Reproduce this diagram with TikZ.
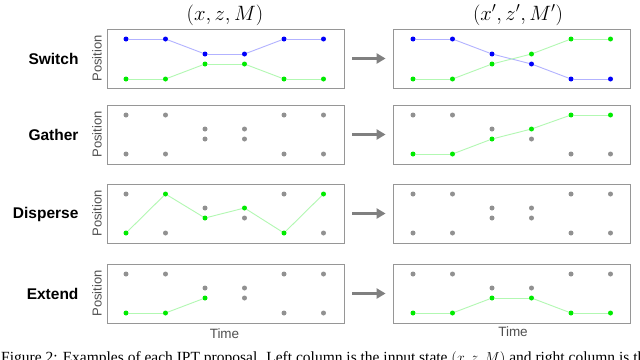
\documentclass[tikz,border=0pt]{standalone}
\usepackage{fontspec}
\setsansfont{Liberation Sans}
\setmainfont{Liberation Serif}
\usetikzlibrary{arrows.meta}
\definecolor{dotblue}{RGB}{0,0,250}
\definecolor{dotgreen}{RGB}{0,235,0}
\definecolor{lineblue}{RGB}{178,178,255}
\definecolor{linegreen}{RGB}{178,248,178}
\definecolor{dotgray}{RGB}{145,145,145}
\definecolor{framegray}{RGB}{150,150,150}
\definecolor{labelgray}{RGB}{80,80,80}
\definecolor{arrowgray}{RGB}{128,128,128}
\pgfdeclarelayer{bg}
\pgfsetlayers{bg,main}
\newcommand\mytrack[5]{%
  \foreach \lv [count=\i] in {#5} {
    \node[#4] (#1\i) at ({#2+39.5*(\i-1)}, {#3+\lv}) {};
  }%
}
\newcommand\mylinks[3]{%
  \begin{pgfonlayer}{bg}
  \foreach \i [evaluate=\i as \j using int(\i+1)] in {1,...,#2}
    \draw[#3] (#1\i) -- (#1\j);
  \end{pgfonlayer}%
}
\newcommand\mygray[4]{%
  \foreach \c/\lv [count=\k] in {#4} {
    \node[graydot] (#1\k) at ({#2+39.5*(\c-1)}, {#3+\lv}) {};
  }%
}
\begin{document}
\begin{tikzpicture}[x=1pt,y=-1pt,
  panel/.style={draw=framegray, line width=0.8pt, minimum width=237pt, minimum height=59pt, inner sep=0pt},
  dotbase/.style={circle, inner sep=0pt, minimum size=5pt},
  bluedot/.style={dotbase, fill=dotblue},
  greendot/.style={dotbase, fill=dotgreen},
  graydot/.style={dotbase, fill=dotgray},
  bluelink/.style={lineblue, line width=0.9pt},
  greenlink/.style={linegreen, line width=0.9pt},
  rowlabel/.style={font=\fontsize{15.5}{17}\sffamily\bfseries, anchor=east},
  poslabel/.style={font=\fontsize{13}{15}\sffamily, text=labelgray, rotate=90},
  timelabel/.style={font=\fontsize{13.5}{15}\sffamily, text=labelgray},
  header/.style={font=\fontsize{22}{25}\selectfont, inner sep=0pt},
  bigarrow/.style={arrowgray, line width=3pt, -{Triangle[length=9pt,width=10pt]}}
]
\clip (0,0) rectangle (640,359);
\begin{pgfonlayer}{bg}
\fill[white] (0,0) rectangle (640,359);
\end{pgfonlayer}

% headers
\node[header] (hL) at (225,15) {$(x,z,M)$};
\node[header] (hR) at (518,15) {$(x',z',M')$};

% panels
\node[panel] (swL) at (225.5,58.5) {};
\node[panel] (swR) at (511.5,58.5) {};
\node[panel] (gaL) at (225.5,134.5) {};
\node[panel] (gaR) at (511.5,134.5) {};
\node[panel] (diL) at (225.5,213.5) {};
\node[panel] (diR) at (511.5,213.5) {};
\node[panel] (exL) at (225.5,293.5) {};
\node[panel] (exR) at (511.5,293.5) {};

% row labels
\node[rowlabel] (lsw) at (82,59) {Switch};
\node[rowlabel] (lga) at (82,135) {Gather};
\node[rowlabel] (ldi) at (82,214) {Disperse};
\node[rowlabel] (lex) at (82,294) {Extend};

% position labels
\node[poslabel] (psw) at (97,58.5) {Position};
\node[poslabel] (pga) at (97,134.5) {Position};
\node[poslabel] (pdi) at (97,213.5) {Position};
\node[poslabel] (pex) at (97,293.5) {Position};

% time labels
\node[timelabel] (tL) at (224.5,334) {Time};
\node[timelabel] (tR) at (513,332) {Time};

% arrows
\foreach \r in {sw,ga,di,ex}
  \draw[bigarrow] ([xshift=8pt]\r L.east) -- ([xshift=-7pt]\r R.west);

% ---- Switch (top 29)
\mytrack{swLb}{126}{29}{bluedot}{10,10,25,25,10,10}
\mytrack{swLg}{126}{29}{greendot}{50,50,35,35,50,50}
\mylinks{swLb}{5}{bluelink}
\mylinks{swLg}{5}{greenlink}
\mytrack{swRb}{413}{29}{bluedot}{10,10,25,35,50,50}
\mytrack{swRg}{413}{29}{greendot}{50,50,35,25,10,10}
\mylinks{swRb}{5}{bluelink}
\mylinks{swRg}{5}{greenlink}

% ---- Gather (top 105)
\mygray{gaLy}{126}{105}{1/10,1/49,2/10,2/49,3/24,3/34,4/24,4/34,5/10,5/49,6/10,6/49}
\mygray{gaRy}{413}{105}{1/10,2/10,3/24,4/34,5/49,6/49}
\mytrack{gaRg}{413}{105}{greendot}{49,49,34,24,10,10}
\mylinks{gaRg}{5}{greenlink}

% ---- Disperse (top 184)
\mygray{diLy}{126}{184}{1/10,2/49,3/24,4/34,5/10,6/49}
\mytrack{diLg}{126}{184}{greendot}{49,10,34,24,49,10}
\mylinks{diLg}{5}{greenlink}
\mygray{diRy}{413}{184}{1/10,1/49,2/10,2/49,3/24,3/34,4/24,4/34,5/10,5/49,6/10,6/49}

% ---- Extend (top 264)
\mygray{exLy}{126}{264}{1/10,2/10,3/24,4/24,4/34,5/10,5/49,6/10,6/49}
\mytrack{exLg}{126}{264}{greendot}{49,49,34}
\mylinks{exLg}{2}{greenlink}
\mygray{exRy}{413}{264}{1/10,2/10,3/24,4/24,5/10,6/10}
\mytrack{exRg}{413}{264}{greendot}{49,49,34,34,49,49}
\mylinks{exRg}{5}{greenlink}

% caption (cut off by the picture's lower edge)
\node[anchor=base west, inner sep=0pt, font=\fontsize{15.5}{18}\selectfont] (cap) at (1,362.5)
  {Figure 2: Examples of each IPT proposal. Left column is the input state $(x,z,M)$ and right column is the proposal};
\end{tikzpicture}
\end{document}
